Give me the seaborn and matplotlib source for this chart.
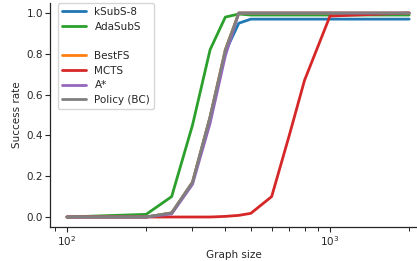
import numpy as np
import pandas as pd
import matplotlib
matplotlib.use("Agg")
import matplotlib.pyplot as plt
from matplotlib.lines import Line2D
import seaborn as sns

graph_sizes = [100, 200, 250, 300, 350, 400, 450, 500, 600, 700, 800, 1000, 2000]
ksubs8 = [0.0, 0.0, 0.02, 0.17, 0.49, 0.81, 0.95, 0.97, 0.97, 0.97, 0.97, 0.97, 0.97]
adasubs = [0.0, 0.013, 0.10, 0.45, 0.82, 0.98, 0.995, 0.99, 0.99, 0.99, 0.99, 0.99, 0.99]
bestfs = [0.0, 0.0, 0.02, 0.17, 0.49, 0.82, 1.0, 1.0, 1.0, 1.0, 1.0, 1.0, 1.0]
mcts = [0.0, 0.0, 0.0, 0.0, 0.0, 0.003, 0.008, 0.018, 0.10, 0.40, 0.67, 0.985, 1.0]
astar = [0.0, 0.0, 0.015, 0.16, 0.46, 0.79, 1.0, 1.0, 1.0, 1.0, 1.0, 1.0, 1.0]
policy = [0.0, 0.0, 0.02, 0.17, 0.49, 0.82, 1.0, 1.0, 1.0, 1.0, 1.0, 1.0, 1.0]

methods = ["kSubS-8", "AdaSubS", "BestFS", "MCTS", "A*", "Policy (BC)"]
series = [ksubs8, adasubs, bestfs, mcts, astar, policy]
colors = ["#1f77b4", "#2ca02c", "#ff7f0e", "#d62728", "#9467bd", "#7f7f7f"]

rows = []
for m, vals in zip(methods, series):
    for x, v in zip(graph_sizes, vals):
        rows.append({"Graph size": x, "Success rate": v, "method": m})
df = pd.DataFrame(rows)

sns.set_theme(style="ticks")
plt.rcParams["font.family"] = ["DejaVu Sans"]

fs = 7.5
fig = plt.figure(figsize=(4.17, 2.61), dpi=100)
ax = fig.add_axes([50 / 417, 1 - 227 / 261, 367 / 417, 224.2 / 261])

sns.lineplot(data=df, x="Graph size", y="Success rate", hue="method",
             hue_order=methods, palette=colors, linewidth=2.0, ax=ax,
             legend=True)
ax.set_xscale("log")
ax.set_xlim(10 ** (2 - 17 / 263), 10 ** (3 + 87 / 263))
ax.set_ylim(-0.049, 1.05)
ax.set_yticks([0.0, 0.2, 0.4, 0.6, 0.8, 1.0])
ax.set_xlabel("Graph size", fontsize=fs, color=".15", labelpad=1.5)
ax.set_ylabel("Success rate", fontsize=fs, color=".15", labelpad=3)
ax.tick_params(axis="both", which="major", labelsize=fs, length=3.5, width=0.8, pad=1.5)
ax.tick_params(axis="x", which="minor", length=3.0, width=0.7)
sns.despine(ax=ax)
for s in ["left", "bottom"]:
    ax.spines[s].set_linewidth(0.9)

handles, labels = ax.get_legend_handles_labels()
blank = Line2D([], [], color="none")
handles = handles[:2] + [blank] + handles[2:]
labels = labels[:2] + [" "] + labels[2:]
ax.legend(handles, labels, loc="upper left", bbox_to_anchor=(8 / 367, 1.0),
          borderaxespad=0, fontsize=fs, handlelength=2.3, labelspacing=0.45,
          frameon=True, title=None)

fig.savefig("out.png", dpi=100)
